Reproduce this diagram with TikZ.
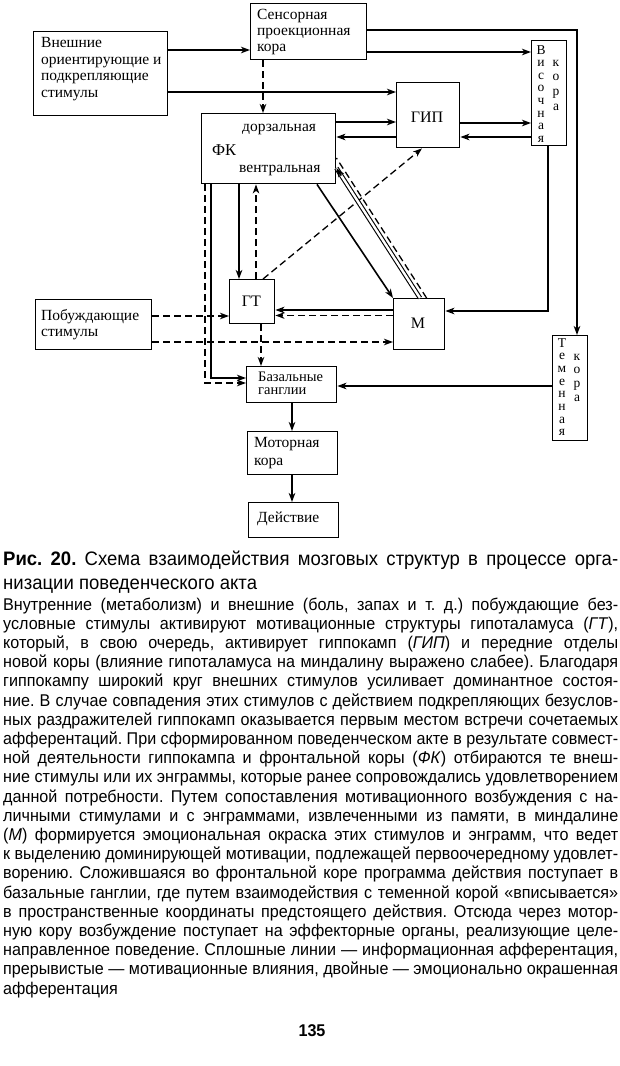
\documentclass[tikz,border=0pt]{standalone}
\usepackage{graphicx}
\usepackage{fontspec}
\setmainfont{Liberation Serif}
\newfontfamily\txtfont{Liberation Sans}[FakeStretch=0.95]
\usetikzlibrary{arrows.meta,calc}
\frenchspacing
\newsavebox\jlbox
\newcommand\jl[1]{\sbox\jlbox{#1}\ifdim\wd\jlbox>615pt\scalebox{\fpeval{40304640/\number\wd\jlbox}}[1]{\usebox\jlbox}\else\makebox[615pt][s]{#1}\fi\par}
\begin{document}
\begin{tikzpicture}[x=1pt,y=-1pt,
  box/.style={draw, line width=1.4pt, inner sep=0pt, anchor=north west},
  lbl/.style={inner sep=0pt, anchor=base west, font=\fontsize{15.5}{16.5}\selectfont},
  ctr/.style={inner sep=0pt, font=\fontsize{16}{16.5}\selectfont},
  vstack/.style={inner sep=0pt, anchor=base, font=\fontsize{13.5}{12.6}\selectfont},
  tip/.style={-{Stealth[length=9pt,width=6.5pt,inset=2.5pt]}},
  arr/.style={line width=1.6pt, tip},
  ln/.style={line width=1.6pt},
  dsh/.style={line width=1.3pt, dash pattern=on 7pt off 4pt},
  darr/.style={dsh, tip},
  dbl/.style={line width=1.1pt, double distance=2.4pt},
]
\useasboundingbox (0,0) rectangle (620,1066);

% boxes
\node[box, minimum width=134pt, minimum height=84pt] (ext) at (33,31) {};
\node[box, minimum width=116pt, minimum height=56pt] (sens) at (250,3) {};
\node[box, minimum width=134pt, minimum height=70pt] (fk) at (201,113) {};
\node[box, minimum width=63pt, minimum height=65pt] (gip) at (396,82) {};
\node[box, minimum width=35pt, minimum height=105pt] (vis) at (531,40) {};
\node[box, minimum width=45pt, minimum height=44pt] (gt) at (229,279) {};
\node[box, minimum width=116pt, minimum height=50pt] (pob) at (35,299) {};
\node[box, minimum width=51pt, minimum height=51pt] (m) at (393,298) {};
\node[box, minimum width=35pt, minimum height=105pt] (tem) at (552,335) {};
\node[box, minimum width=90pt, minimum height=36pt] (bg) at (246,366) {};
\node[box, minimum width=90pt, minimum height=43pt] (mot) at (247,431) {};
\node[box, minimum width=90pt, minimum height=35pt] (act) at (248,502) {};

% labels
\node[lbl] (extL) at (41,47.5) {\parbox[t]{200pt}{\raggedright Внешние\\ориентирующие и\\подкрепляющие\\стимулы}};
\node[lbl, font=\fontsize{15.5}{16}\selectfont] (sensL) at (257,19) {\parbox[t]{150pt}{\raggedright Сенсорная\\проекционная\\кора}};
\node[lbl] (fkA) at (242,131) {дорзальная};
\node[lbl, font=\fontsize{16.5}{16.5}\selectfont] (fkB) at (212,155.5) {ФК};
\node[lbl] (fkC) at (239,172) {вентральная};
\node[ctr] (gipL) at (427,117) {ГИП};
\node[ctr] (gtL) at (251.5,301) {ГТ};
\node[ctr] (mL) at (418,323) {М};
\node[lbl] (pobL) at (41,320) {\parbox[t]{150pt}{\raggedright Побуждающие\\стимулы}};
\node[lbl, font=\fontsize{14.5}{13.3}\selectfont] (bgL) at (258,381.5) {\parbox[t]{100pt}{\raggedright Базальные\\ганглии}};
\node[lbl, font=\fontsize{15.5}{18}\selectfont] (motL) at (254,447) {\parbox[t]{100pt}{\raggedright Моторная\\кора}};
\node[lbl] (actL) at (257,522) {Действие};
\node[vstack] (visA) at (541,54) {\parbox[t]{14pt}{\centering В\\и\\с\\о\\ч\\н\\а\\я}};
\node[vstack, font=\fontsize{13.5}{14.7}\selectfont] (visB) at (556,66) {\parbox[t]{14pt}{\centering к\\о\\р\\а}};
\node[vstack, font=\fontsize{13.5}{12.7}\selectfont] (temA) at (562,347) {\parbox[t]{14pt}{\centering Т\\е\\м\\е\\н\\н\\а\\я}};
\node[vstack, font=\fontsize{13.5}{13.7}\selectfont] (temB) at (577,360) {\parbox[t]{14pt}{\centering к\\о\\р\\а}};

% connectors
\draw[arr] (ext.east |- 0,50) -- (sens.west |- 0,50);
\draw[arr] (ext.east |- 0,92) -- (gip.west |- 0,92);
\draw[arr] (sens.east |- 0,52) -- (vis.west |- 0,52);
\draw[arr] (sens.east |- 0,30) -| (tem.north -| 577,0);
\draw[darr] (sens.south -| 263,0) -- (fk.north -| 263,0);
\draw[arr] (fk.east |- 0,122) -- (gip.west |- 0,122);
\draw[arr] (gip.west |- 0,137) -- (fk.east |- 0,137);
\draw[arr] (gip.east |- 0,123) -- (vis.west |- 0,123);
\draw[arr] (vis.west |- 0,137) -- (gip.east |- 0,137);
\draw[arr] (vis.south -| 548,0) |- (m.east |- 0,311);
\draw[darr] (gt.north -| 263,0) -- (gip.south -| 422,0);
\draw[arr] (fk.south -| 239,0) -- (gt.north -| 239,0);
\draw[darr] (gt.north -| 256,0) -- (fk.south -| 256,0);
\draw[arr] (fk.south -| 317,0) -- (m.north west);
\coordinate (mfA) at (m.north -| 420,0);
\coordinate (mfB) at (fk.east |- 0,168);
\draw[dbl] (mfA) -- (mfB);
\draw[arr] ($(mfB)!9pt!(mfA)$) -- (mfB);
\draw[dsh] (m.north -| 426.6,0) -- (fk.east |- 0,158);
\draw[arr, line width=2pt] (m.west |- 0,310) -- (gt.east |- 0,310);
\draw[darr] (m.west |- 0,315.5) -- (gt.east |- 0,315.5);
\draw[darr] (pob.east |- 0,316) -- (gt.west |- 0,316);
\draw[darr] (pob.east |- 0,342) -- (m.west |- 0,342);
\draw[darr] (gt.south -| 261,0) -- (bg.north -| 261,0);
\draw[arr] (fk.south -| 211,0) |- (bg.west |- 0,378);
\draw[darr] (fk.south -| 205,0) |- (bg.west |- 0,383);
\draw[arr] (tem.west |- 0,386) -- (bg.east |- 0,386);
\draw[arr] (bg.south -| 292,0) -- (mot.north -| 292,0);
\draw[arr] (mot.south -| 292,0) -- (act.north -| 292,0);

% caption and text
\node[anchor=base west, inner sep=0pt] (cap) at (3,565) {\parbox[t]{615pt}{\txtfont\fontsize{19.5}{24}\selectfont\parindent=0pt
\jl{\textbf{Рис. 20.} Схема взаимодействия мозговых структур в процессе орга-}
низации поведенческого акта\par}};
\node[anchor=base west, inner sep=0pt] (body) at (3,610) {\parbox[t]{615pt}{\txtfont\fontsize{17}{19.2}\selectfont\parindent=0pt
\jl{Внутренние (метаболизм) и внешние (боль, запах и т. д.) побуждающие без-}
\jl{условные стимулы активируют мотивационные структуры гипоталамуса (\textit{ГТ}),}
\jl{который, в свою очередь, активирует гиппокамп (\textit{ГИП}) и передние отделы}
\jl{новой коры (влияние гипоталамуса на миндалину выражено слабее). Благодаря}
\jl{гиппокампу широкий круг внешних стимулов усиливает доминантное состоя-}
\jl{ние. В случае совпадения этих стимулов с действием подкрепляющих безуслов-}
\jl{ных раздражителей гиппокамп оказывается первым местом встречи сочетаемых}
\jl{афферентаций. При сформированном поведенческом акте в результате совмест-}
\jl{ной деятельности гиппокампа и фронтальной коры (\textit{ФК}) отбираются те внеш-}
\jl{ние стимулы или их энграммы, которые ранее сопровождались удовлетворением}
\jl{данной потребности. Путем сопоставления мотивационного возбуждения с на-}
\jl{личными стимулами и с энграммами, извлеченными из памяти, в миндалине}
\jl{(\textit{М}) формируется эмоциональная окраска этих стимулов и энграмм, что ведет}
\jl{к выделению доминирующей мотивации, подлежащей первоочередному удовлет-}
\jl{ворению. Сложившаяся во фронтальной коре программа действия поступает в}
\jl{базальные ганглии, где путем взаимодействия с теменной корой «вписывается»}
\jl{в пространственные координаты предстоящего действия. Отсюда через мотор-}
\jl{ную кору возбуждение поступает на эффекторные органы, реализующие целе-}
\jl{направленное поведение. Сплошные линии — информационная афферентация,}
\jl{прерывистые — мотивационные влияния, двойные — эмоционально окрашенная}
афферентация\par}};
\node[anchor=base, inner sep=0pt, font=\txtfont\bfseries\fontsize{17}{20}\selectfont] (pg) at (312,1036) {135};
\end{tikzpicture}
\end{document}
